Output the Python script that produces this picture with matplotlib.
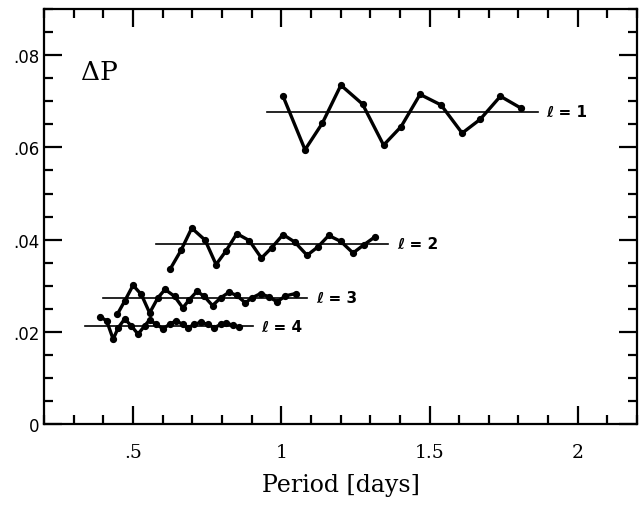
import matplotlib
matplotlib.use("Agg")
import matplotlib.pyplot as plt
from matplotlib.ticker import MultipleLocator, FuncFormatter

# l = 1
p1 = [1.006, 1.080, 1.138, 1.201, 1.274, 1.345, 1.404, 1.468, 1.539, 1.610, 1.671, 1.739, 1.809]
d1 = [0.0711, 0.0595, 0.0652, 0.0735, 0.0694, 0.0605, 0.0645, 0.0715, 0.0692, 0.0631, 0.0661, 0.0711, 0.0685]
# l = 2
p2 = [0.626, 0.662, 0.698, 0.743, 0.780, 0.813, 0.850, 0.892, 0.933, 0.967,
      1.006, 1.045, 1.087, 1.123, 1.160, 1.201, 1.242, 1.279, 1.316]
d2 = [0.0337, 0.0377, 0.0425, 0.0399, 0.0346, 0.0375, 0.0413, 0.0398, 0.0360, 0.0382,
      0.0411, 0.0395, 0.0366, 0.0384, 0.0409, 0.0396, 0.0371, 0.0389, 0.0406]
# l = 3
p3 = [0.447, 0.472, 0.500, 0.528, 0.556, 0.584, 0.608, 0.640, 0.668, 0.690, 0.716, 0.740,
      0.768, 0.796, 0.824, 0.849, 0.879, 0.902, 0.930, 0.958, 0.986, 1.014, 1.048]
d3 = [0.0238, 0.0267, 0.0301, 0.0281, 0.0241, 0.0274, 0.0292, 0.0277, 0.0252, 0.0270, 0.0288, 0.0277,
      0.0257, 0.0274, 0.0286, 0.0279, 0.0263, 0.0274, 0.0283, 0.0276, 0.0265, 0.0278, 0.0283]
# l = 4
p4 = [0.388, 0.411, 0.433, 0.450, 0.472, 0.494, 0.517, 0.539, 0.556, 0.578, 0.601, 0.623,
      0.645, 0.668, 0.685, 0.707, 0.729, 0.752, 0.774, 0.796, 0.813, 0.836, 0.858]
d4 = [0.0233, 0.0224, 0.0184, 0.0209, 0.0228, 0.0213, 0.0195, 0.0213, 0.0226, 0.0216, 0.0207, 0.0216,
      0.0224, 0.0216, 0.0209, 0.0216, 0.0221, 0.0216, 0.0209, 0.0216, 0.0220, 0.0214, 0.0211]

# asymptotic spacing (horizontal lines) and their extents
mean_dp = [0.0677, 0.0391, 0.0274, 0.0212]
line_x0 = [0.953, 0.578, 0.399, 0.337]
line_x1 = [1.865, 1.361, 1.087, 0.903]
labels = ["ℓ = 1", "ℓ = 2", "ℓ = 3", "ℓ = 4"]

fig = plt.figure(figsize=(6.39, 5.06), dpi=100)
ax = fig.add_axes([0.069, 0.160, 0.928, 0.820])

for (p, d), m, x0, x1, lab in zip([(p1, d1), (p2, d2), (p3, d3), (p4, d4)],
                                  mean_dp, line_x0, line_x1, labels):
    ax.plot([x0, x1], [m, m], color="black", lw=1.2)
    ax.plot(p, d, color="black", lw=2.4, marker="o", ms=4.2)
    ax.text(x1 + 0.03, m, lab, fontsize=11, fontweight="bold",
            va="center", ha="left")

ax.text(0.325, 0.0765, "ΔP", fontsize=19, family="DejaVu Serif", va="center")

ax.set_xlim(0.2, 2.2)
ax.set_ylim(0, 0.09)
ax.xaxis.set_major_locator(MultipleLocator(0.5))
ax.xaxis.set_minor_locator(MultipleLocator(0.1))
ax.yaxis.set_major_locator(MultipleLocator(0.02))
ax.yaxis.set_minor_locator(MultipleLocator(0.005))


def fmt(v, pos):
    s = f"{v:g}"
    if s.startswith("0."):
        s = s[1:]
    return s


ax.xaxis.set_major_formatter(FuncFormatter(fmt))
ax.yaxis.set_major_formatter(FuncFormatter(fmt))

ax.tick_params(which="both", direction="in", top=True, right=True, width=1.6)
ax.tick_params(which="major", length=13, labelsize=12)
ax.tick_params(which="minor", length=6.5)
ax.tick_params(axis="x", pad=14, labelsize=13.5)
for lab in ax.get_xticklabels():
    lab.set_family("DejaVu Serif")
for sp in ax.spines.values():
    sp.set_linewidth(1.6)

ax.set_xlabel("Period [days]", fontsize=17, family="DejaVu Serif", labelpad=8)

fig.savefig("out.png", dpi=100)
